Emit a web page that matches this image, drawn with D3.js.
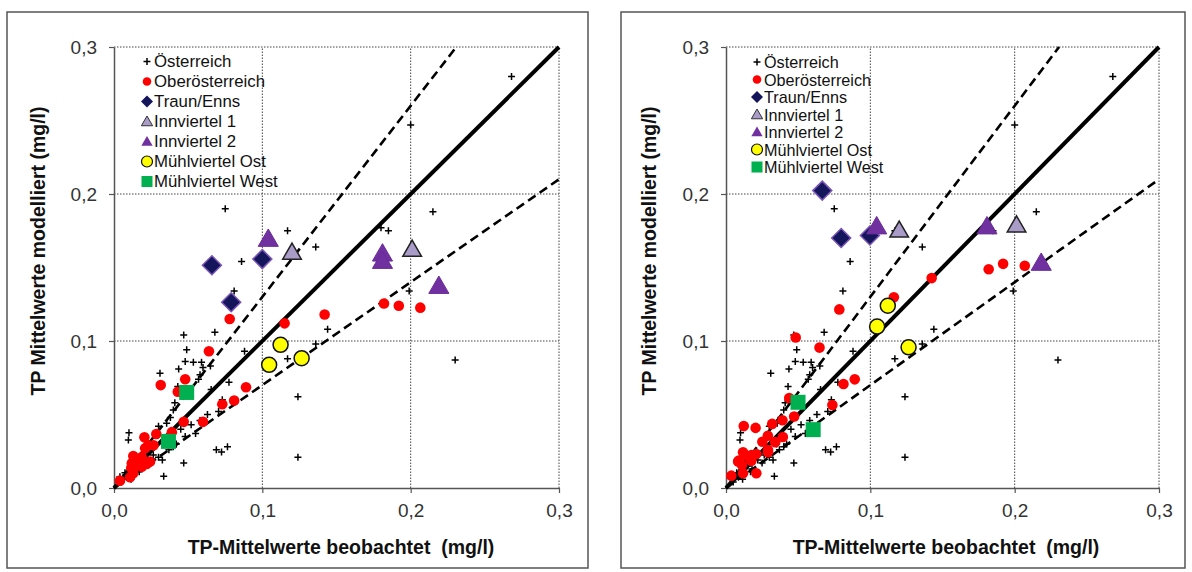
<!DOCTYPE html>
<html>
<head>
<meta charset="utf-8">
<script src="https://cdn.jsdelivr.net/npm/d3@7"></script>
<style>
  body { margin: 0; background: #fff; }
  svg { display: block; font-family: "Liberation Sans", Arial, sans-serif; }
</style>
</head>
<body>
<div id="chart"></div>
<script>
// axis ticks (both axes, both panels)
var tickValues = [0, 0.1, 0.2, 0.3];
var tickLabels = ["0,0", "0,1", "0,2", "0,3"];

// reference lines y = k * x  (1:1 and +/-30 %)
var lineSlopes = [1, 1.3, 0.7];

var seriesNames = ["Österreich", "Oberösterreich", "Traun/Enns", "Innviertel 1",
                   "Innviertel 2", "Mühlviertel Ost", "Mühlviertel West"];

// Österreich (same stations in both panels) [beobachtet, modelliert]
var oesterreich = [
  [0.268, 0.280], [0.200, 0.247], [0.215, 0.188], [0.075, 0.190], [0.117, 0.175],
  [0.180, 0.177], [0.185, 0.175], [0.136, 0.164], [0.086, 0.154], [0.199, 0.134],
  [0.081, 0.134], [0.144, 0.108], [0.136, 0.098], [0.230, 0.087], [0.068, 0.106],
  [0.047, 0.104], [0.049, 0.094], [0.088, 0.093], [0.117, 0.088], [0.124, 0.062],
  [0.124, 0.021], [0.031, 0.078], [0.048, 0.086], [0.0535, 0.0855], [0.059, 0.0855],
  [0.0436, 0.081], [0.058, 0.077], [0.057, 0.074], [0.0775, 0.0719], [0.0655, 0.067],
  [0.043, 0.069], [0.073, 0.060], [0.0705, 0.052], [0.040, 0.053], [0.038, 0.048],
  [0.0355, 0.044], [0.0101, 0.0376], [0.0097, 0.0327], [0.030, 0.042], [0.048, 0.035],
  [0.055, 0.037], [0.069, 0.026], [0.0725, 0.0245], [0.0765, 0.028], [0.047, 0.017],
  [0.0335, 0.008], [0.0326, 0.019], [0.0265, 0.0224], [0.030, 0.021], [0.004, 0.0077],
  [0.0074, 0.0104], [0.0097, 0.0111], [0.015, 0.015], [0.018, 0.013], [0.022, 0.019],
  [0.025, 0.017], [0.013, 0.020], [0.020, 0.024], [0.005, 0.004], [0.008, 0.009],
  [0.040, 0.028], [0.037, 0.026], [0.042, 0.030], [0.052, 0.043], [0.058, 0.046],
  [0.063, 0.050], [0.045, 0.040], [0.041, 0.058], [0.060, 0.082], [0.065, 0.083],
  [0.0115, 0.006], [0.017, 0.011], [0.035, 0.030]
];

// left panel
var ooeLeft = [
  [0.182, 0.1255], [0.192, 0.124], [0.2065, 0.1227], [0.142, 0.118], [0.115, 0.112],
  [0.078, 0.115], [0.064, 0.093], [0.048, 0.074], [0.0315, 0.070], [0.043, 0.0655],
  [0.089, 0.0685], [0.081, 0.0595], [0.073, 0.057], [0.060, 0.045], [0.047, 0.045],
  [0.039, 0.038], [0.0205, 0.0345], [0.0285, 0.0367], [0.023, 0.029], [0.0267, 0.029],
  [0.021, 0.027], [0.013, 0.0218], [0.0187, 0.021], [0.012, 0.0168], [0.0153, 0.0156],
  [0.0187, 0.0145], [0.022, 0.0163], [0.0243, 0.018], [0.013, 0.010], [0.004, 0.005],
  [0.0108, 0.0073], [0.0116, 0.0136], [0.0176, 0.0156]
];
var traunLeft = [[0.066, 0.1515], [0.100, 0.1557], [0.079, 0.1264]];
var innv1Left = [[0.120, 0.160], [0.201, 0.162]];
var innv2Left = [[0.104, 0.169], [0.181, 0.159], [0.181, 0.154], [0.219, 0.137]];
var muehlOstLeft = [[0.1046, 0.0838], [0.1123, 0.0974], [0.1265, 0.0883]];
var muehlWestLeft = [[0.049, 0.065], [0.0367, 0.0317]];

// right panel
var ooeRight = [
  [0.182, 0.1488], [0.192, 0.1525], [0.207, 0.1512], [0.1425, 0.1428], [0.1163, 0.1297],
  [0.0785, 0.1215], [0.0483, 0.1024], [0.0648, 0.0955], [0.0814, 0.0707], [0.0892, 0.0739],
  [0.0737, 0.0565], [0.0438, 0.0612], [0.0472, 0.0486], [0.0391, 0.0461], [0.032, 0.0436],
  [0.0394, 0.0347], [0.029, 0.0355], [0.0291, 0.0243], [0.0341, 0.0312], [0.0123, 0.0421],
  [0.0205, 0.0409], [0.0118, 0.0243], [0.0084, 0.0181], [0.0252, 0.0315], [0.0291, 0.0259],
  [0.0148, 0.0218], [0.0176, 0.0224], [0.021, 0.0231], [0.0176, 0.0186], [0.0088, 0.0186],
  [0.0111, 0.0156], [0.0037, 0.0084], [0.0118, 0.010], [0.021, 0.010]
];
var traunRight = [[0.0667, 0.2023], [0.0798, 0.1701], [0.0997, 0.1718]];
var innv1Right = [[0.120, 0.175], [0.2013, 0.1785]];
var innv2Right = [[0.1044, 0.1775], [0.1808, 0.1775], [0.2184, 0.1527]];
var muehlOstRight = [[0.1047, 0.1098], [0.1121, 0.124], [0.1265, 0.0957]];
var muehlWestRight = [[0.0499, 0.0583], [0.0604, 0.0397]];

var W = 1192, H = 572;
var svg = d3.select("#chart").append("svg").attr("width", W).attr("height", H);

// marker look per series
var markerStyle = [
  { kind: "cross" },
  { kind: "circle", r: 5.3, fill: "#ff0000", stroke: "none" },
  { kind: "diamond", size: 9.5, fill: "#15155c", stroke: "#7b55b5", sw: 1.5 },
  { kind: "triangle", size: 150, fill: "#a99cc8", stroke: "#222", sw: 1.5 },
  { kind: "triangle", size: 175, fill: "#7030a0", stroke: "#6a2d99", sw: 1 },
  { kind: "circle", r: 7.5, fill: "#ffff00", stroke: "#111", sw: 1.5 },
  { kind: "square", size: 15, fill: "#00b050", stroke: "none" }
];
var legendStyle = [
  { kind: "cross" },
  { kind: "circle", r: 4.3, fill: "#ff0000", stroke: "none" },
  { kind: "diamond", size: 6, fill: "#15155c", stroke: "none" },
  { kind: "triangle", size: 55, fill: "#a99cc8", stroke: "#333", sw: 1 },
  { kind: "triangle", size: 55, fill: "#7030a0", stroke: "none" },
  { kind: "circle", r: 5.5, fill: "#ffff00", stroke: "#111", sw: 1.2 },
  { kind: "square", size: 11, fill: "#00b050", stroke: "none" }
];

function drawMarker(g, st, px, py) {
  if (st.kind == "cross") {
    g.append("path")
      .attr("d", "M" + (px - 3.5) + "," + py + "H" + (px + 3.5) + "M" + px + "," + (py - 3.5) + "V" + (py + 3.5))
      .attr("stroke", "#000").attr("stroke-width", 1.5);
  } else if (st.kind == "circle") {
    g.append("circle").attr("cx", px).attr("cy", py).attr("r", st.r)
      .attr("fill", st.fill).attr("stroke", st.stroke).attr("stroke-width", st.sw || 0);
  } else if (st.kind == "square") {
    g.append("rect").attr("x", px - st.size / 2).attr("y", py - st.size / 2)
      .attr("width", st.size).attr("height", st.size).attr("fill", st.fill);
  } else if (st.kind == "diamond") {
    var s = st.size;
    g.append("path")
      .attr("d", "M" + px + "," + (py - s) + "L" + (px + s) + "," + py + "L" + px + "," + (py + s) + "L" + (px - s) + "," + py + "Z")
      .attr("fill", st.fill).attr("stroke", st.stroke).attr("stroke-width", st.sw || 0);
  } else if (st.kind == "triangle") {
    g.append("path")
      .attr("d", d3.symbol(d3.symbolTriangle, st.size)())
      .attr("transform", "translate(" + px + "," + (py + 1) + ")")
      .attr("fill", st.fill).attr("stroke", st.stroke).attr("stroke-width", st.sw || 0);
  }
}

function drawPanel(p, groups) {
  var g = svg.append("g");

  g.append("rect")
    .attr("x", p.frame[0]).attr("y", p.frame[1])
    .attr("width", p.frame[2]).attr("height", p.frame[3])
    .attr("fill", "#fff").attr("stroke", "#555").attr("stroke-width", 1.5);

  var x = d3.scaleLinear().domain([0, 0.3]).range([p.x0, p.x1]);
  var y = d3.scaleLinear().domain([0, 0.3]).range([p.y0, p.y1]);

  // dotted grid
  var grid = g.append("g").attr("stroke", "#444").attr("stroke-width", 1).attr("stroke-dasharray", "1.5,1.5");
  tickValues.slice(1).forEach(function(t) {
    grid.append("line").attr("x1", x(0)).attr("x2", x(0.3)).attr("y1", y(t)).attr("y2", y(t));
    grid.append("line").attr("x1", x(t)).attr("x2", x(t)).attr("y1", y(0)).attr("y2", y(0.3));
  });

  var fmt = function(d, i) { return tickLabels[i]; };
  var yAxis = g.append("g").attr("transform", "translate(" + x(0) + ",0)")
    .call(d3.axisLeft(y).tickValues(tickValues).tickFormat(fmt).tickSize(5).tickSizeOuter(0).tickPadding(12));
  var xAxis = g.append("g").attr("transform", "translate(0," + y(0) + ")")
    .call(d3.axisBottom(x).tickValues(tickValues).tickFormat(fmt).tickSize(5).tickSizeOuter(0).tickPadding(11));
  [xAxis, yAxis].forEach(function(a) {
    a.select(".domain").attr("stroke", "#555").attr("stroke-width", 1.5);
    a.selectAll(".tick line").attr("stroke", "#555").attr("stroke-width", 1.2);
    a.selectAll(".tick text").attr("fill", "#333").style("font-size", "19px")
      .style("font-family", "'Liberation Sans', Arial, sans-serif");
  });

  // reference lines
  lineSlopes.forEach(function(k) {
    var xe = Math.min(0.3, 0.3 / k);
    g.append("line")
      .attr("x1", x(0)).attr("y1", y(0)).attr("x2", x(xe)).attr("y2", y(k * xe))
      .attr("stroke", "#000")
      .attr("stroke-width", k == 1 ? 4 : 2.6)
      .attr("stroke-dasharray", k == 1 ? null : "9,5");
  });

  // markers
  var mg = g.append("g");
  groups.forEach(function(pts, si) {
    pts.forEach(function(d) { drawMarker(mg, markerStyle[si], x(d[0]), y(d[1])); });
  });

  // legend
  var lg = g.append("g");
  seriesNames.forEach(function(name, i) {
    var cy = p.legY + i * p.legDy;
    drawMarker(lg, legendStyle[i], p.legX, cy);
    lg.append("text").attr("x", p.legX + 7).attr("y", cy)
      .attr("dominant-baseline", "central")
      .style("font-size", p.legFont + "px").attr("fill", "#111")
      .text(name);
  });

  // axis titles
  g.append("text")
    .attr("transform", "translate(" + p.yTitleX + "," + p.yTitleY + ") rotate(-90)")
    .attr("text-anchor", "middle").attr("dominant-baseline", "central")
    .style("font-size", "19.5px").style("font-weight", "bold").attr("fill", "#111")
    .text("TP Mittelwerte modelliert (mg/l)");
  g.append("text")
    .attr("x", p.xTitleX).attr("y", p.xTitleY)
    .attr("text-anchor", "middle").attr("dominant-baseline", "central")
    .style("font-size", "19.5px").style("font-weight", "bold").style("white-space", "pre")
    .attr("fill", "#111")
    .text("TP-Mittelwerte beobachtet  (mg/l)");
}

drawPanel({
  frame: [7, 12, 581, 556], x0: 114, x1: 559, y0: 488, y1: 47,
  legX: 147, legY: 61.5, legDy: 20, legFont: 16.8,
  yTitleX: 38, yTitleY: 251, xTitleX: 341, xTitleY: 547
}, [oesterreich, ooeLeft, traunLeft, innv1Left, innv2Left, muehlOstLeft, muehlWestLeft]);

drawPanel({
  frame: [621, 12, 564, 556], x0: 726, x1: 1159, y0: 488, y1: 47,
  legX: 757, legY: 62, legDy: 17.5, legFont: 16.2,
  yTitleX: 649, yTitleY: 251, xTitleX: 946, xTitleY: 547
}, [oesterreich, ooeRight, traunRight, innv1Right, innv2Right, muehlOstRight, muehlWestRight]);
</script>
</body>
</html>
